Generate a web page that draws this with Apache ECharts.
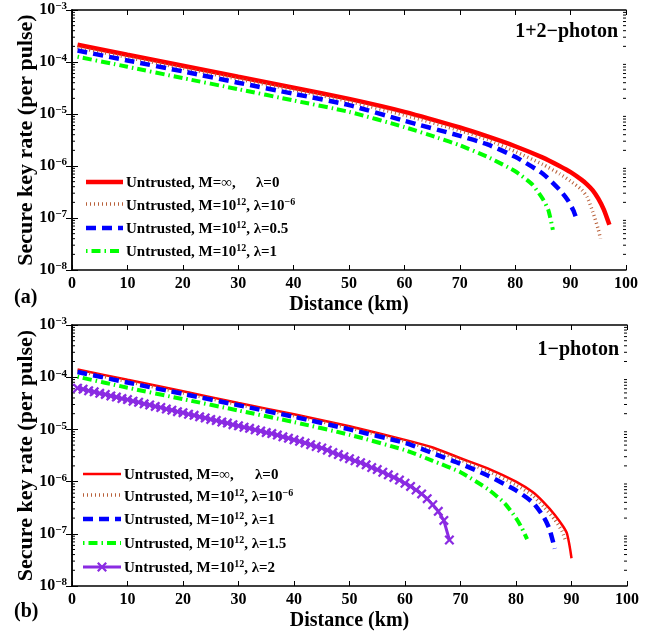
<!DOCTYPE html>
<html>
<head>
<meta charset="utf-8">
<script src="https://cdn.jsdelivr.net/npm/echarts@6/dist/echarts.min.js"></script>
<style>html,body{margin:0;padding:0;background:#fff;}#c{width:667px;height:635px;}</style>
</head>
<body>
<div id="c"></div>
<script>
// ---------- Panel (a): 1+2-photon ----------
const aRedX   = [1,10,20,30,40,50,60,70,75,80,85,88,90,92,93,94,95,96,97];
const aRedY   = [2.14e-4,1.38e-4,8.5e-5,5.2e-5,3.2e-5,1.95e-5,1.1e-5,5.5e-6,3.7e-6,2.4e-6,1.45e-6,1.0e-6,7.6e-7,5.4e-7,4.4e-7,3.4e-7,2.35e-7,1.45e-7,7.4e-8];
const aBrownX = [1,10,20,30,40,50,60,70,75,80,85,88,90,92,93,94,95,95.4];
const aBrownY = [1.9e-4,1.23e-4,7.6e-5,4.7e-5,2.9e-5,1.74e-5,9.5e-6,4.8e-6,3.2e-6,1.9e-6,1.07e-6,7.1e-7,5.1e-7,3.5e-7,2.5e-7,1.32e-7,6.0e-8,4.0e-8];
const aBlueX  = [1,10,20,30,40,50,60,70,75,80,85,88,89.5,90.5,91];
const aBlueY  = [1.66e-4,1.07e-4,6.6e-5,4.0e-5,2.45e-5,1.48e-5,7.4e-6,3.8e-6,2.6e-6,1.5e-6,7.1e-7,3.5e-7,2.2e-7,1.4e-7,1.0e-7];
const aGreenX = [1,10,20,30,40,50,60,66,70,75,80,83,85,86,86.8];
const aGreenY = [1.26e-4,8.1e-5,4.9e-5,3.0e-5,1.82e-5,1.1e-5,5.6e-6,3.5e-6,2.5e-6,1.5e-6,7.9e-7,4.5e-7,2.3e-7,1.4e-7,5.9e-8];

// ---------- Panel (b): 1-photon ----------
const bRedX   = [1,10,20,30,40,50,60,65,70,75,80,83,85,87,88.5,89.2,90];
const bRedY   = [1.41e-4,8.9e-5,5.4e-5,3.2e-5,1.95e-5,1.15e-5,6.3e-6,4.5e-6,2.8e-6,1.78e-6,1.0e-6,6.3e-7,4.0e-7,2.3e-7,1.38e-7,1.0e-7,3.4e-8];
const bBrownX = [1,10,20,30,40,50,60,65,70,75,80,83,85,87,88.3,88.9];
const bBrownY = [1.32e-4,8.3e-5,5.0e-5,3.0e-5,1.82e-5,1.07e-5,5.9e-6,4.1e-6,2.6e-6,1.58e-6,8.7e-7,5.4e-7,3.3e-7,1.86e-7,1.12e-7,7.6e-8];
const bBlueX  = [1,10,20,30,40,50,60,65,70,75,80,83,85,86,87];
const bBlueY  = [1.26e-4,7.9e-5,4.8e-5,2.9e-5,1.74e-5,1.0e-5,5.5e-6,3.5e-6,2.2e-6,1.29e-6,6.8e-7,4.0e-7,2.1e-7,1.26e-7,5.2e-8];
const bGreenX = [1,10,20,30,40,50,60,65,70,75,78,80,81,82];
const bGreenY = [1.02e-4,6.3e-5,3.8e-5,2.3e-5,1.38e-5,7.9e-6,4.0e-6,2.5e-6,1.51e-6,7.1e-7,3.8e-7,2.0e-7,1.32e-7,7.9e-8];
const bPurpleX = [1,2,3,4,5,6,7,8,9,10,11,12,13,14,15,16,17,18,19,20,21,22,23,24,25,26,27,28,29,30,31,32,33,34,35,36,37,38,39,40,41,42,43,44,45,46,47,48,49,50,51,52,53,54,55,56,57,58,59,60,61,62,63,64,65,66,67,68];
const bPurpleY = [6.17e-5,5.89e-5,5.5e-5,5.25e-5,4.9e-5,4.68e-5,4.37e-5,4.17e-5,3.89e-5,3.72e-5,3.47e-5,3.31e-5,3.09e-5,2.95e-5,2.75e-5,2.63e-5,2.45e-5,2.34e-5,2.19e-5,2.09e-5,1.95e-5,1.86e-5,1.74e-5,1.66e-5,1.55e-5,1.48e-5,1.38e-5,1.32e-5,1.23e-5,1.17e-5,1.1e-5,1.05e-5,9.8e-6,9.3e-6,8.7e-6,8.3e-6,7.8e-6,7.2e-6,6.8e-6,6.3e-6,5.9e-6,5.5e-6,5.1e-6,4.7e-6,4.4e-6,4.0e-6,3.6e-6,3.3e-6,3.0e-6,2.75e-6,2.5e-6,2.3e-6,2.1e-6,1.86e-6,1.7e-6,1.51e-6,1.35e-6,1.2e-6,1.07e-6,9.3e-7,8.1e-7,6.9e-7,5.8e-7,4.7e-7,3.6e-7,2.7e-7,1.8e-7,7.6e-8];

const xTicks = [0,10,20,30,40,50,60,70,80,90,100];
const yMin = 1e-8, yMax = 1e-3;
const minorMult = [2,3,4,5,6,7,8,9];
const decades = [1e-8,1e-7,1e-6,1e-5,1e-4];

const FONT = '"Liberation Serif","Times New Roman",serif';
const RED = '#ff0000', BROWN = '#b8603a', BLUE = '#0000ff', GREEN = '#00ff00', PURPLE = '#8a2be2';
const XMARK = 'path://M0,1.6L1.6,0L5,3.4L8.4,0L10,1.6L6.6,5L10,8.4L8.4,10L5,6.6L1.6,10L0,8.4L3.4,5Z';
const XPTS = [[0,1.6],[1.6,0],[5,3.4],[8.4,0],[10,1.6],[6.6,5],[10,8.4],[8.4,10],[5,6.6],[1.6,10],[0,8.4],[3.4,5]];

const pair = (xs, ys) => xs.map((x, i) => [x, ys[i]]);
const minorData = [];
decades.forEach(d => minorMult.forEach(m => minorData.push([50, m * d])));

const tickRich = {
  b: {fontFamily: FONT, fontWeight: 'bold', fontSize: 16, color: '#000', lineHeight: 18},
  s: {fontFamily: FONT, fontWeight: 'bold', fontSize: 11, color: '#000', verticalAlign: 'top', lineHeight: 11}
};
function logLabel(v) {
  const e = Math.round(Math.log10(v));
  return '{b|10}{s|' + (e < 0 ? '\u2212' + (-e) : e) + '}';
}

function xAxes(gi) {
  return [
    {gridIndex: gi, type: 'value', min: 0, max: 100, interval: 10, position: 'bottom',
     name: 'Distance (km)', nameLocation: 'middle', nameGap: 25,
     nameTextStyle: {fontFamily: FONT, fontWeight: 'bold', fontSize: 20, color: '#000'},
     axisLine: {show: true, lineStyle: {color: '#000', width: 1.5}},
     axisTick: {show: true, inside: true, length: 5, lineStyle: {color: '#000', width: 1}},
     axisLabel: {fontFamily: FONT, fontWeight: 'bold', fontSize: 16, color: '#000', margin: 6},
     splitLine: {show: false}},
    {gridIndex: gi, type: 'value', min: 0, max: 100, interval: 10, position: 'top',
     axisLine: {show: true, lineStyle: {color: '#000', width: 1.5}},
     axisTick: {show: true, inside: true, length: 5, lineStyle: {color: '#000', width: 1}},
     axisLabel: {show: false}, splitLine: {show: false}}
  ];
}
function yAxes(gi) {
  return [
    {gridIndex: gi, type: 'log', logBase: 10, min: yMin, max: yMax, splitNumber: 5, position: 'left',
     name: 'Secure key rate (per pulse)', nameLocation: 'middle', nameGap: 35, nameMoveOverlap: false,
     nameTextStyle: {fontFamily: FONT, fontWeight: 'bold', fontSize: 22, color: '#000'},
     axisLine: {show: true, lineStyle: {color: '#000', width: 1.5}},
     axisTick: {show: true, inside: true, length: 6, lineStyle: {color: '#000', width: 1}},
     axisLabel: {formatter: logLabel, rich: tickRich, margin: 5},
     splitLine: {show: false}},
    {gridIndex: gi, type: 'log', logBase: 10, min: yMin, max: yMax, splitNumber: 5, position: 'right',
     axisLine: {show: true, lineStyle: {color: '#000', width: 1.5}},
     axisTick: {show: true, inside: true, length: 6, lineStyle: {color: '#000', width: 1}},
     axisLabel: {show: false}, splitLine: {show: false}}
  ];
}

function lineSeries(xi, yi, data, color, width, dash, extra) {
  return Object.assign({
    type: 'line', xAxisIndex: xi, yAxisIndex: yi, data: data,
    showSymbol: false, smooth: 0.2, animation: false, silent: true,
    lineStyle: {color: color, width: width, type: dash, cap: 'butt'}
  }, extra || {});
}
function minorSeries(xi, yi) {
  return {
    type: 'custom', xAxisIndex: xi, yAxisIndex: yi, data: minorData, silent: true, animation: false,
    renderItem: function (params, api) {
      const y = api.coord([50, api.value(1)])[1];
      const cs = params.coordSys;
      return {type: 'group', children: [
        {type: 'line', shape: {x1: cs.x, y1: y, x2: cs.x + 3, y2: y}, style: {stroke: '#000', lineWidth: 1}},
        {type: 'line', shape: {x1: cs.x + cs.width - 3, y1: y, x2: cs.x + cs.width, y2: y}, style: {stroke: '#000', lineWidth: 1}}
      ]};
    }
  };
}

const legRich = {
  b: {fontFamily: FONT, fontWeight: 'bold', fontSize: 15, color: '#000', lineHeight: 18},
  s: {fontFamily: FONT, fontWeight: 'bold', fontSize: 10, color: '#000', verticalAlign: 'top', lineHeight: 10}
};
function legText(x, y, txt) {
  return {type: 'text', x: x, y: y, silent: true,
    style: {text: txt, rich: legRich, fill: '#000', verticalAlign: 'middle', align: 'left',
            fontFamily: FONT, fontWeight: 'bold', fontSize: 15}};
}
function legLine(x1, x2, y, color, width, dash) {
  return {type: 'line', silent: true, shape: {x1: x1, y1: y, x2: x2, y2: y},
    style: {stroke: color, lineWidth: width, lineDash: dash, lineCap: 'butt'}};
}
function plainText(x, y, txt, size, align) {
  return {type: 'text', x: x, y: y, silent: true,
    style: {text: txt, fill: '#000', fontFamily: FONT, fontWeight: 'bold', fontSize: size,
            verticalAlign: 'middle', align: align || 'left'}};
}

const graphics = [
  // panel (a) legend
  legLine(86, 123, 182, RED, 4.5, null),
  legText(126, 183, '{b|Untrusted, M=\u221e,}'), legText(256, 183, '{b|\u03bb=0}'),
  legLine(86, 123, 204, BROWN, 3.5, [1, 3]),
  legText(126, 206, '{b|Untrusted, M=10}{s|12}{b|, \u03bb=10}{s|\u22126}'),
  legLine(86, 123, 228, BLUE, 4.5, [10, 6]),
  legText(126, 229, '{b|Untrusted, M=10}{s|12}{b|, \u03bb=0.5}'),
  legLine(86, 123, 251, GREEN, 4, [1.5, 4, 9, 4]),
  legText(126, 252, '{b|Untrusted, M=10}{s|12}{b|, \u03bb=1}'),
  plainText(618, 32, '1+2\u2212photon', 20, 'right'),
  plainText(14, 298, '(a)', 20),
  // panel (b) legend
  legLine(83, 121, 474, RED, 2.5, null),
  legText(124, 475, '{b|Untrusted, M=\u221e,}'), legText(255, 475, '{b|\u03bb=0}'),
  legLine(83, 121, 495, BROWN, 3.5, [1, 3]),
  legText(124, 497, '{b|Untrusted, M=10}{s|12}{b|, \u03bb=10}{s|\u22126}'),
  legLine(83, 121, 519, BLUE, 4.5, [10, 6]),
  legText(124, 520, '{b|Untrusted, M=10}{s|12}{b|, \u03bb=1}'),
  legLine(83, 121, 543, GREEN, 4, [1.5, 4, 9, 4]),
  legText(124, 544, '{b|Untrusted, M=10}{s|12}{b|, \u03bb=1.5}'),
  legLine(83, 121, 567, PURPLE, 3, null),
  {type: 'polygon', silent: true, shape: {points: XPTS.map(p => [p[0] + 97, p[1] + 562])},
   style: {fill: PURPLE}},
  legText(124, 568, '{b|Untrusted, M=10}{s|12}{b|, \u03bb=2}'),
  plainText(619, 350, '1\u2212photon', 20, 'right'),
  plainText(14, 612, '(b)', 20)
];

const option = {
  backgroundColor: '#fff',
  animation: false,
  grid: [
    {left: 72, top: 10, width: 554, height: 260, outerBoundsMode: 'none', containLabel: false},
    {left: 72, top: 325, width: 555, height: 261, outerBoundsMode: 'none', containLabel: false}
  ],
  xAxis: xAxes(0).concat(xAxes(1)),
  yAxis: yAxes(0).concat(yAxes(1)),
  graphic: graphics,
  series: [
    minorSeries(0, 0),
    lineSeries(0, 0, pair(aRedX, aRedY), RED, 4.5, 'solid'),
    lineSeries(0, 0, pair(aBrownX, aBrownY), BROWN, 3.5, [1, 3]),
    lineSeries(0, 0, pair(aBlueX, aBlueY), BLUE, 4.5, [10, 6]),
    lineSeries(0, 0, pair(aGreenX, aGreenY), GREEN, 4, [1.5, 4, 9, 4]),
    minorSeries(2, 2),
    lineSeries(2, 2, pair(bRedX, bRedY), RED, 2.5, 'solid'),
    lineSeries(2, 2, pair(bBrownX, bBrownY), BROWN, 3.5, [1, 3]),
    lineSeries(2, 2, pair(bBlueX, bBlueY), BLUE, 4.5, [10, 6]),
    lineSeries(2, 2, pair(bGreenX, bGreenY), GREEN, 4, [1.5, 4, 9, 4]),
    lineSeries(2, 2, pair(bPurpleX, bPurpleY), PURPLE, 3, 'solid',
      {showSymbol: true, symbol: XMARK, symbolSize: 10, smooth: false,
       itemStyle: {color: PURPLE}})
  ]
};
echarts.init(document.getElementById('c'), null, {renderer: 'canvas'}).setOption(option);
</script>
</body>
</html>
